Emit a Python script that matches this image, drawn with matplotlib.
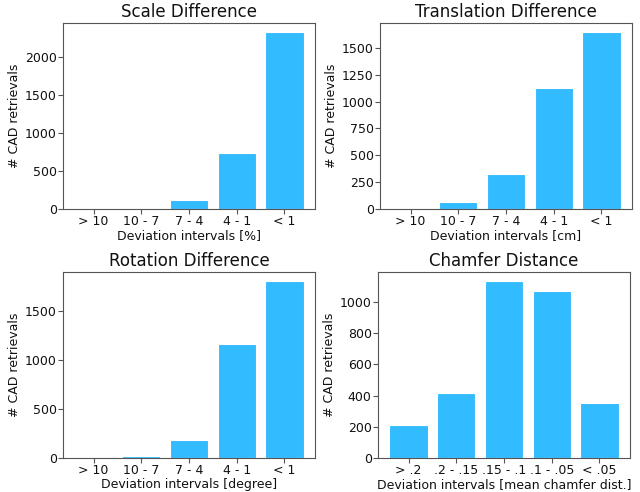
import matplotlib
matplotlib.use("Agg")
import matplotlib.pyplot as plt
from matplotlib.ticker import MultipleLocator

interval_labels = ["> 10", "10 - 7", "7 - 4", "4 - 1", "< 1"]
chamfer_labels = ["> .2", ".2 - .15", ".15 - .1", ".1 - .05", "< .05"]

scale_counts = [1, 2, 113, 734, 2328]
translation_counts = [2, 68, 322, 1129, 1649]
rotation_counts = [1, 20, 180, 1165, 1805]
chamfer_counts = [209, 413, 1134, 1066, 349]

titles = ["Scale Difference", "Translation Difference", "Rotation Difference", "Chamfer Distance"]
xlabels = ["Deviation intervals [%]", "Deviation intervals [cm]",
           "Deviation intervals [degree]", "Deviation intervals [mean chamfer dist.]"]
ysteps = [500, 250, 500, 200]

color = "#33bbff"

fig = plt.figure(figsize=(6.4, 4.92), dpi=100)
W, H = 640, 492
boxes = [(63, 23, 315, 209), (380, 23, 632, 209), (63, 272, 315, 458), (378, 272, 630, 458)]
data = [(interval_labels, scale_counts), (interval_labels, translation_counts),
        (interval_labels, rotation_counts), (chamfer_labels, chamfer_counts)]

for (x0, y0, x1, y1), (labs, vals), t, xl, st in zip(boxes, data, titles, xlabels, ysteps):
    ax = fig.add_axes([x0 / W, 1 - y1 / H, (x1 - x0) / W, (y1 - y0) / H])
    ax.bar(labs, vals, color=color, edgecolor="white", linewidth=0.8)
    ax.set_title(t, fontsize=12, pad=4, color="#111111")
    ax.set_xlabel(xl, fontsize=9, labelpad=0.5, color="#111111")
    ax.set_ylabel("# CAD retrievals", fontsize=9, labelpad=3, color="#111111")
    ax.yaxis.set_major_locator(MultipleLocator(st))
    ax.tick_params(labelsize=9, pad=1.0, labelcolor="#111111", length=3.5, color="#555555")
    for s in ax.spines.values():
        s.set_color("#555555")

fig.savefig("out.png", dpi=100)
